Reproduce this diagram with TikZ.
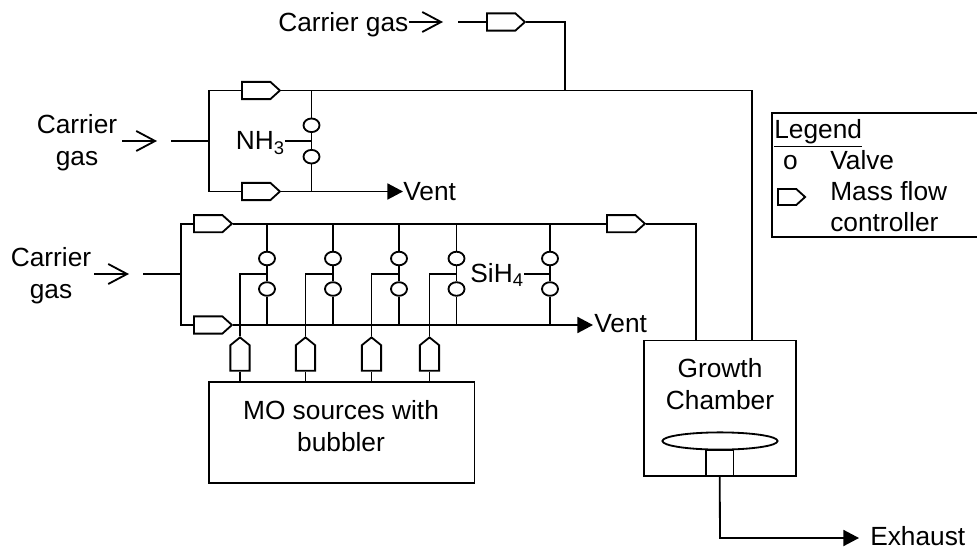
\documentclass[tikz,border=0pt]{standalone}
\usepackage{fontspec}
\setmainfont{Liberation Sans}
\usetikzlibrary{arrows.meta,shapes.geometric,shapes.symbols}
\tikzset{
    pipe/.style={line width=1.3pt},
    mfc/.style={draw, pipe, shape=signal, signal to=east, signal from=nowhere, signal pointer angle=84,
        anchor=west, minimum width=0.95cm, minimum height=0.43cm, inner sep=0pt},
    mfcup/.style={draw, pipe, shape=signal, signal to=north, signal from=nowhere, signal pointer angle=102,
        anchor=south, minimum width=0.48cm, minimum height=0.64cm, inner sep=0pt},
    valve/.style={draw, pipe, ellipse, minimum width=0.40cm, minimum height=0.34cm, inner sep=0pt},
    lab/.style={inner sep=0pt, align=center, font=\fontsize{18.7}{22.8}\selectfont},
    inlet/.style={pipe, -{Straight Barb[length=0.47cm,width=0.5cm]}},
    outlet/.style={pipe, -{Triangle[length=0.39cm,width=0.40cm]}},
}
\begin{document}
\begin{tikzpicture}[x=0.025cm, y=-0.025cm]
    \useasboundingbox (0,0) rectangle (977,550);

    % Top carrier line
    \node[lab, anchor=base west] (topgas) at (278,31.5) {Carrier gas};
    \coordinate (topin) at (443,22);
    \coordinate (topstart) at (458,22);
    \node[mfc] (mfctop) at (486,22) {};
    \coordinate (topdrop) at (565,22);
    \coordinate (topjoin) at (565,90.5);
    \draw[inlet] (topgas.east |- topin) -- (topin);
    \draw[pipe] (topstart) -- (mfctop.west);
    \draw[pipe] (mfctop.east) -- (topdrop) -- (topjoin);

    % NH3 branch
    \node[lab] (gasa) at (77,143) {Carrier\\gas};
    \coordinate (gasatail) at (122,141);
    \coordinate (gasatip) at (157,141);
    \coordinate (gasastart) at (171,141);
    \coordinate (forka) at (209,141);
    \coordinate (forkatop) at (209,90.5);
    \coordinate (forkabot) at (209,191.5);
    \node[mfc] (mfca) at (241,90.5) {};
    \node[mfc] (mfcb) at (241,191.5) {};
    \coordinate (nhtop) at (311.5,90.5);
    \coordinate (nhbot) at (311.5,191.5);
    \coordinate (nhmid) at (311.5,141);
    \node[valve] (nhv) at (311.5,125.3) {};
    \node[valve] (nhw) at (311.5,156.7) {};
    \node[lab, anchor=base east] (nh) at (285,150) {NH\textsubscript{3}};
    \coordinate (ventatip) at (403,191.5);
    \node[lab, anchor=base west] (venta) at (403,200) {Vent};
    \coordinate (mainbend) at (752,90.5);
    \draw[inlet] (gasatail) -- (gasatip);
    \draw[pipe] (gasastart) -- (forka);
    \draw[pipe] (mfca.west) -- (forkatop) -- (forkabot) -- (mfcb.west);
    \draw[pipe] (mfca.east) -- (mainbend);
    \draw[pipe] (nhtop) -- (nhv.north);
    \draw[pipe] (nhv.south) -- (nhw.north);
    \draw[pipe] (nhw.south) -- (nhbot);
    \draw[pipe] (nh.east |- nhmid) -- (nhmid);
    \draw[outlet] (mfcb.east) -- (ventatip);

    % MO and SiH4 branch
    \node[lab] (gasb) at (51,276) {Carrier\\gas};
    \coordinate (gasbtail) at (94,274);
    \coordinate (gasbtip) at (129,274);
    \coordinate (gasbstart) at (143,274);
    \coordinate (forkb) at (181,274);
    \coordinate (forkbtop) at (181,223.7);
    \coordinate (forkbbot) at (181,325);
    \node[mfc] (mfcc) at (193,223.7) {};
    \node[mfc] (mfcd) at (193,325) {};
    \node[mfc] (mfce) at (606,223.7) {};
    \coordinate (ventbtip) at (593,325);
    \node[lab, anchor=base west] (ventb) at (594,332.7) {Vent};
    \draw[inlet] (gasbtail) -- (gasbtip);
    \draw[pipe] (gasbstart) -- (forkb);
    \draw[pipe] (mfcc.west) -- (forkbtop) -- (forkbbot) -- (mfcd.west);
    \draw[pipe] (mfcc.east) -- (mfce.west);
    \draw[outlet] (mfcd.east) -- (ventbtip);

    % Valve column 1
    \coordinate (cola) at (267,223.7);
    \coordinate (colamid) at (267,274);
    \coordinate (colabot) at (267,325);
    \node[valve] (va) at (267,258.5) {};
    \node[valve] (wa) at (267,289) {};
    \draw[pipe] (cola) -- (va.north);
    \draw[pipe] (va.south) -- (wa.north);
    \draw[pipe] (wa.south) -- (colabot);

    % Valve column 2
    \coordinate (colb) at (333,223.7);
    \coordinate (colbmid) at (333,274);
    \coordinate (colbbot) at (333,325);
    \node[valve] (vb) at (333,258.5) {};
    \node[valve] (wb) at (333,289) {};
    \draw[pipe] (colb) -- (vb.north);
    \draw[pipe] (vb.south) -- (wb.north);
    \draw[pipe] (wb.south) -- (colbbot);

    % Valve column 3
    \coordinate (colc) at (399,223.7);
    \coordinate (colcmid) at (399,274);
    \coordinate (colcbot) at (399,325);
    \node[valve] (vc) at (399,258.5) {};
    \node[valve] (wc) at (399,289) {};
    \draw[pipe] (colc) -- (vc.north);
    \draw[pipe] (vc.south) -- (wc.north);
    \draw[pipe] (wc.south) -- (colcbot);

    % Valve column 4
    \coordinate (cold) at (456.5,223.7);
    \coordinate (coldmid) at (456.5,274);
    \coordinate (coldbot) at (456.5,325);
    \node[valve] (vd) at (456.5,258.5) {};
    \node[valve] (wd) at (456.5,289) {};
    \draw[pipe] (cold) -- (vd.north);
    \draw[pipe] (vd.south) -- (wd.north);
    \draw[pipe] (wd.south) -- (coldbot);

    % SiH4 column
    \coordinate (cole) at (550,223.7);
    \coordinate (colemid) at (550,274);
    \coordinate (colebot) at (550,325);
    \node[valve] (ve) at (550,258.5) {};
    \node[valve] (we) at (550,289) {};
    \node[lab, anchor=base east] (si) at (524,282.7) {SiH\textsubscript{4}};
    \draw[pipe] (cole) -- (ve.north);
    \draw[pipe] (ve.south) -- (we.north);
    \draw[pipe] (we.south) -- (colebot);
    \draw[pipe] (si.east |- colemid) -- (colemid);

    % MO sources
    \node[draw, pipe, minimum width=6.64cm, minimum height=2.525cm, inner sep=0pt] (mo) at (341.7,432.5) {};
    \node[lab] (motext) at (341,426) {MO sources with\\bubbler};
    \node[mfcup] (upa) at (240,371.7) {};
    \node[mfcup] (upb) at (305.5,371.7) {};
    \node[mfcup] (upc) at (371.5,371.7) {};
    \node[mfcup] (upd) at (429.5,371.7) {};
    \draw[pipe] (colamid) -- (240,274) -- (upa.north);
    \draw[pipe] (colbmid) -- (305.5,274) -- (upb.north);
    \draw[pipe] (colcmid) -- (371.5,274) -- (upc.north);
    \draw[pipe] (coldmid) -- (429.5,274) -- (upd.north);
    \draw[pipe] (upa.south) -- (upa.south |- mo.north);
    \draw[pipe] (upb.south) -- (upb.south |- mo.north);
    \draw[pipe] (upc.south) -- (upc.south |- mo.north);
    \draw[pipe] (upd.south) -- (upd.south |- mo.north);

    % Growth chamber
    \node[draw, pipe, minimum width=3.8cm, minimum height=3.38cm, inner sep=0pt] (chamber) at (720,408.2) {};
    \node[lab] (chambertext) at (720,384) {Growth\\Chamber};
    \node[draw, pipe, minimum width=0.69cm, minimum height=0.65cm, inner sep=0pt] (stem) at (719.7,463) {};
    \node[draw, pipe, fill=white, ellipse, minimum width=2.88cm, minimum height=0.43cm, inner sep=0pt] (wafer) at (720,441) {};
    \draw[pipe] (mainbend) -- (mainbend |- chamber.north);
    \coordinate (sidebend) at (696.3,223.7);
    \draw[pipe] (mfce.east) -- (sidebend) -- (sidebend |- chamber.north);
    \coordinate (exbend) at (720,538);
    \coordinate (extip) at (859,538);
    \node[lab, anchor=base west] (exhaust) at (870,545.7) {Exhaust};
    \draw[outlet] (stem.south) -- (exbend) -- (extip);

    % Legend
    \coordinate (lega) at (977,113);
    \coordinate (legb) at (771.7,113);
    \coordinate (legc) at (771.7,237);
    \coordinate (legd) at (977,237);
    \draw[pipe] (lega) -- (legb) -- (legc) -- (legd);
    \node[lab, anchor=base west] (legtitle) at (774,139) {\underline{Legend}};
    \node[lab, anchor=base] (legvalve) at (790.5,169.3) {o};
    \node[lab, anchor=base west] (legvalvetext) at (830,169.3) {Valve};
    \node[mfc, minimum width=0.68cm, minimum height=0.4cm] (legmfc) at (777,197) {};
    \node[lab, anchor=base west] (legmfctext) at (830,201) {Mass flow};
    \node[lab, anchor=base west] (legctrl) at (830,231) {controller};
\end{tikzpicture}
\end{document}
